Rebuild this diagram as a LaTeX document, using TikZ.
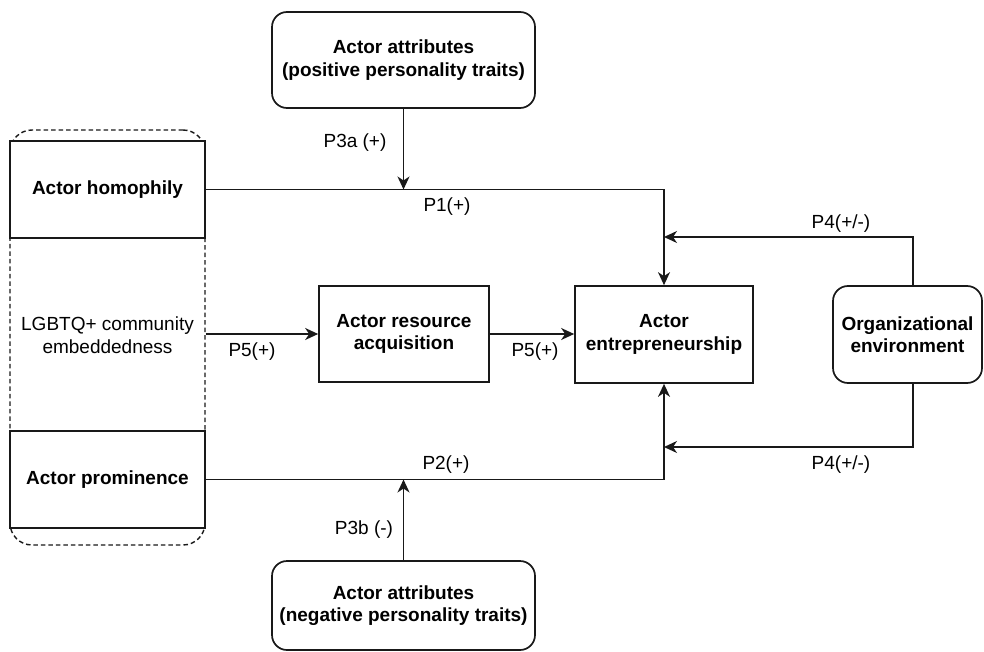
\documentclass[tikz,border=0pt]{standalone}
\usepackage{fontspec}
\setmainfont{Liberation Sans}
\usetikzlibrary{arrows.meta}
\begin{document}
\begin{tikzpicture}[x=1pt,y=-1pt,
  base/.style={draw=black!90, line width=1.7pt, align=center, inner sep=0pt,
    font=\fontsize{19}{22.5}\selectfont},
  sqbox/.style={base, rectangle, font=\bfseries\fontsize{19}{22.5}\selectfont},
  rbox/.style={base, rectangle, rounded corners=15pt, font=\bfseries\fontsize{19}{22.5}\selectfont},
  dashbox/.style={draw=black!90, line width=1.4pt, dash pattern=on 4.5pt off 3pt, rounded corners=22pt, inner sep=0pt},
  arr/.style={draw=black!90, line width=1.7pt, -{Stealth[length=13pt,width=12pt,inset=4pt]}},
  lbl/.style={font=\fontsize{19}{22.5}\selectfont, inner sep=0pt}
]
\useasboundingbox (0,0) rectangle (984,652);
\fill[white] (0,0) rectangle (984,652);

% left group
\node[dashbox, minimum width=195pt, minimum height=415pt] (comm) at (107.5,337.5) {};
\node[sqbox, fill=white, minimum width=195pt, minimum height=97pt] (homo) at (107.5,189.5) {Actor homophily};
\node[sqbox, fill=white, minimum width=195pt, minimum height=97pt] (prom) at (107.5,479.5) {Actor prominence};
\node[lbl, align=center] (lgbt) at (107.5,335) {LGBTQ+ community\\embeddedness};

% top and bottom attribute boxes
\node[rbox, minimum width=263pt, minimum height=96pt] (top) at (403.5,60) {Actor attributes\\(positive personality traits)};
\node[rbox, minimum width=263pt, minimum height=89pt] (bot) at (403.5,605.5) {Actor attributes\\(negative personality traits)};

% middle boxes
\node[sqbox, minimum width=170pt, minimum height=96pt] (res) at (404,334) {Actor resource\\acquisition};
\node[sqbox, minimum width=178pt, minimum height=97pt] (ent) at (664,334.5) {Actor\\entrepreneurship};
\node[rbox, minimum width=149pt, minimum height=97pt] (org) at (907.5,334.5) {Organizational\\environment};

% junction coordinates
\coordinate (j1) at (664,237);
\coordinate (j2) at (664,447);

% connectors
\draw[arr] (homo.east) -| (ent.north);
\draw[arr] (prom.east) -| (ent.south);
\draw[arr] (top.south) -- (top.south |- homo.east);
\draw[arr] (bot.north) -- (bot.north |- prom.east);
\draw[arr] (comm.east |- res.west) -- (res.west);
\draw[arr] (res.east) -- (ent.west |- res.east);
\draw[arr] ([xshift=5.5pt]org.north) |- (j1);
\draw[arr] ([xshift=5.5pt]org.south) |- (j2);

% labels
\node[lbl] (l3a) at (355,143) {P3a (+)};
\node[lbl] (l1) at (447,207) {P1(+)};
\node[lbl] (l4a) at (841,224) {P4(+/-)};
\node[lbl] (l4b) at (841,465) {P4(+/-)};
\node[lbl] (l5a) at (252,352) {P5(+)};
\node[lbl] (l5b) at (535,352) {P5(+)};
\node[lbl] (l2) at (446,465) {P2(+)};
\node[lbl] (l3b) at (364,530) {P3b (-)};
\end{tikzpicture}
\end{document}
